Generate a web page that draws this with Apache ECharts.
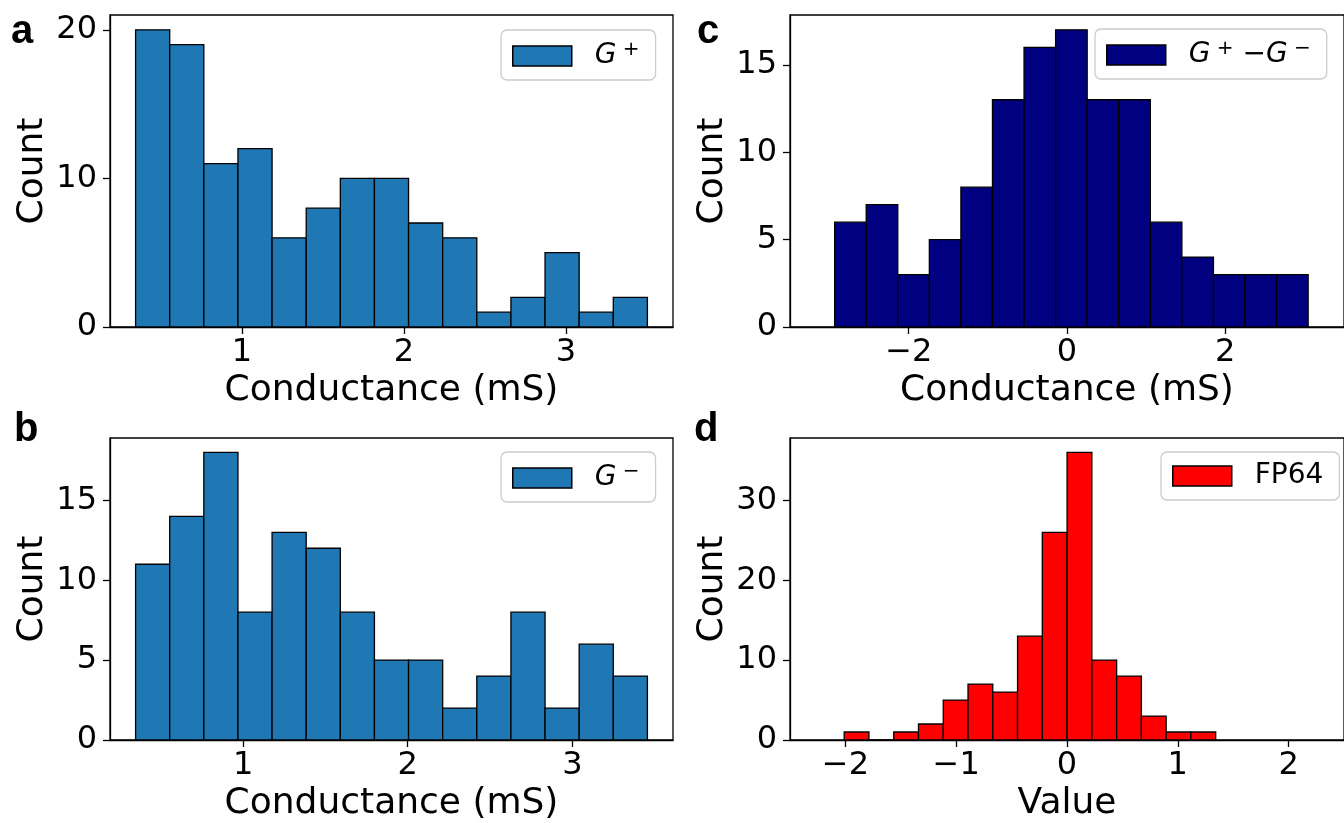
<!DOCTYPE html>
<html>
<head>
<meta charset="utf-8">
<title>Conductance histograms</title>
<script src="https://cdn.jsdelivr.net/npm/echarts@6/dist/echarts.min.js"></script>
<style>
  html, body { margin: 0; padding: 0; background: #ffffff; }
  #chart { width: 1344px; height: 823px; }
</style>
</head>
<body>
<div id="chart"></div>
<script>
// Histogram counts (15 equal-width bins each) and the value range the bins cover.
const countsGp   = [20, 19, 11, 12, 6, 8, 10, 10, 7, 6, 1, 2, 5, 1, 2];
const rangeGp    = [0.344, 3.503];
const countsGm   = [11, 14, 18, 8, 13, 12, 8, 5, 5, 2, 4, 8, 2, 6, 4];
const rangeGm    = [0.347, 3.456];
const countsDiff = [6, 7, 3, 5, 8, 13, 16, 17, 13, 13, 6, 4, 3, 3, 3];
const rangeDiff  = [-2.936, 3.047];
const countsFP64 = [1, 0, 1, 2, 5, 7, 6, 13, 26, 36, 10, 8, 3, 1, 1];
const rangeFP64  = [-2.011, 1.342];

// Tick values for each panel.
const xTicksA = [1, 2, 3];
const yTicksA = [0, 10, 20];
const xTicksB = [1, 2, 3];
const yTicksB = [0, 5, 10, 15];
const xTicksC = [-2, 0, 2];
const yTicksC = [0, 5, 10, 15];
const xTicksD = [-2, -1, 0, 1, 2];
const yTicksD = [0, 10, 20, 30];

// Fixed x limits for the two right-hand panels.
const xLimC = [-3.5, 3.5];
const xLimD = [-2.5, 2.5];

const FONT = '"DejaVu Sans", sans-serif';
const INK = '#000000';

function toBins(counts, range) {
  const n = counts.length;
  const w = (range[1] - range[0]) / n;
  return counts.map((c, i) => [range[0] + i * w, range[0] + (i + 1) * w, c]);
}

// matplotlib-style 5% padding around the data range
function padded(range) {
  const span = range[1] - range[0];
  return [range[0] - 0.05 * span, range[1] + 0.05 * span];
}

function histItem(params, api) {
  const x0 = api.value(0), x1 = api.value(1), c = api.value(2);
  const p0 = api.coord([x0, c]);
  const p1 = api.coord([x1, 0]);
  return {
    type: 'rect',
    shape: { x: p0[0], y: p0[1], width: p1[0] - p0[0], height: p1[1] - p0[1] },
    style: api.style({ stroke: INK, lineWidth: 1.3 })
  };
}

const minusFmt = v => String(v).replace('-', '\u2212');

function xAxisDef(idx, lim, ticks, name) {
  return {
    type: 'value', gridIndex: idx, min: lim[0], max: lim[1],
    name: name, nameLocation: 'middle', nameGap: 46,
    nameTextStyle: { fontFamily: FONT, fontSize: 36, color: INK },
    axisLine: { show: true, onZero: false, lineStyle: { color: INK, width: 1.3 } },
    axisTick: { show: true, customValues: ticks, length: 7, lineStyle: { color: INK, width: 1.3 } },
    axisLabel: { customValues: ticks, formatter: minusFmt, margin: 10,
                 fontFamily: FONT, fontSize: 32, color: INK },
    splitLine: { show: false }
  };
}

function yAxisDef(idx, maxCount, ticks) {
  return {
    type: 'value', gridIndex: idx, min: 0, max: maxCount * 1.05,
    name: 'Count', nameLocation: 'middle', nameGap: 59,
    nameTextStyle: { fontFamily: FONT, fontSize: 36, color: INK },
    axisLine: { show: true, onZero: false, lineStyle: { color: INK, width: 1.3 } },
    axisTick: { show: true, customValues: ticks, length: 7, lineStyle: { color: INK, width: 1.3 } },
    axisLabel: { customValues: ticks, formatter: minusFmt, margin: 13,
                 fontFamily: FONT, fontSize: 32, color: INK },
    splitLine: { show: false }
  };
}

function histSeries(name, idx, counts, range, color) {
  return {
    type: 'custom', name: name, xAxisIndex: idx, yAxisIndex: idx,
    renderItem: histItem, clip: true,
    itemStyle: { color: color, borderColor: INK, borderWidth: 1.3 },
    encode: { x: [0, 1], y: 2 },
    data: toBins(counts, range)
  };
}

const legendRich = {
  g: { fontFamily: FONT, fontStyle: 'italic', fontSize: 28, color: INK, lineHeight: 32 },
  s: { fontFamily: FONT, fontSize: 20, color: INK, verticalAlign: 'top', lineHeight: 18 },
  m: { fontFamily: FONT, fontSize: 28, color: INK, lineHeight: 32 },
  t: { fontFamily: FONT, fontSize: 28, color: INK, lineHeight: 32 }
};

const legendText = {
  'G+': '{g|G}{s| +}',
  'G-': '{g|G}{s| \u2212}',
  'G+-G-': '{g|G}{s| +}{m| \u2212}{g|G}{s| \u2212}',
  'FP64': '{t|FP64}'
};

function legendDef(name, color, left, top) {
  return {
    left: left, top: top, orient: 'vertical',
    data: [{ name: name, icon: 'rect',
             itemStyle: { color: color, borderColor: INK, borderWidth: 1.5 } }],
    itemWidth: 59, itemHeight: 20,
    padding: [10, 16, 10, 11],
    backgroundColor: 'rgba(255,255,255,0.8)',
    borderColor: '#cccccc', borderWidth: 1.3, borderRadius: 6,
    selectedMode: false,
    formatter: n => legendText[n],
    textStyle: { fontFamily: FONT, fontSize: 28, color: INK, padding: [0, 0, 0, 18], rich: legendRich }
  };
}

const chart = echarts.init(document.getElementById('chart'), null, { renderer: 'canvas' });

const panelLetter = (t, x, y) => ({
  type: 'text', left: x, top: y,
  style: { text: t, font: 'bold 40px "Liberation Sans", Arial, sans-serif', fill: INK }
});

chart.setOption({
  animation: false,
  backgroundColor: '#ffffff',
  grid: [
    { left: 110, top: 15,  width: 563, height: 312, show: true, borderColor: INK, borderWidth: 1.3, backgroundColor: 'transparent' },
    { left: 110, top: 438, width: 563, height: 303, show: true, borderColor: INK, borderWidth: 1.3, backgroundColor: 'transparent' },
    { left: 790, top: 15,  width: 563, height: 312, show: true, borderColor: INK, borderWidth: 1.3, backgroundColor: 'transparent' },
    { left: 790, top: 438, width: 563, height: 303, show: true, borderColor: INK, borderWidth: 1.3, backgroundColor: 'transparent' }
  ],
  xAxis: [
    xAxisDef(0, padded(rangeGp), xTicksA, 'Conductance (mS)'),
    xAxisDef(1, padded(rangeGm), xTicksB, 'Conductance (mS)'),
    xAxisDef(2, xLimC, xTicksC, 'Conductance (mS)'),
    xAxisDef(3, xLimD, xTicksD, 'Value')
  ],
  yAxis: [
    yAxisDef(0, Math.max(...countsGp), yTicksA),
    yAxisDef(1, Math.max(...countsGm), yTicksB),
    yAxisDef(2, Math.max(...countsDiff), yTicksC),
    yAxisDef(3, Math.max(...countsFP64), yTicksD)
  ],
  legend: [
    legendDef('G+', '#1f77b4', 501, 30),
    legendDef('G-', '#1f77b4', 501, 452),
    legendDef('G+-G-', '#000080', 1095, 29),
    legendDef('FP64', '#ff0000', 1161, 452)
  ],
  series: [
    histSeries('G+', 0, countsGp, rangeGp, '#1f77b4'),
    histSeries('G-', 1, countsGm, rangeGm, '#1f77b4'),
    histSeries('G+-G-', 2, countsDiff, rangeDiff, '#000080'),
    histSeries('FP64', 3, countsFP64, rangeFP64, '#ff0000')
  ],
  graphic: [
    panelLetter('a', 11, 12),
    panelLetter('b', 14, 410),
    panelLetter('c', 697, 12),
    panelLetter('d', 694, 410)
  ]
});
</script>
</body>
</html>
